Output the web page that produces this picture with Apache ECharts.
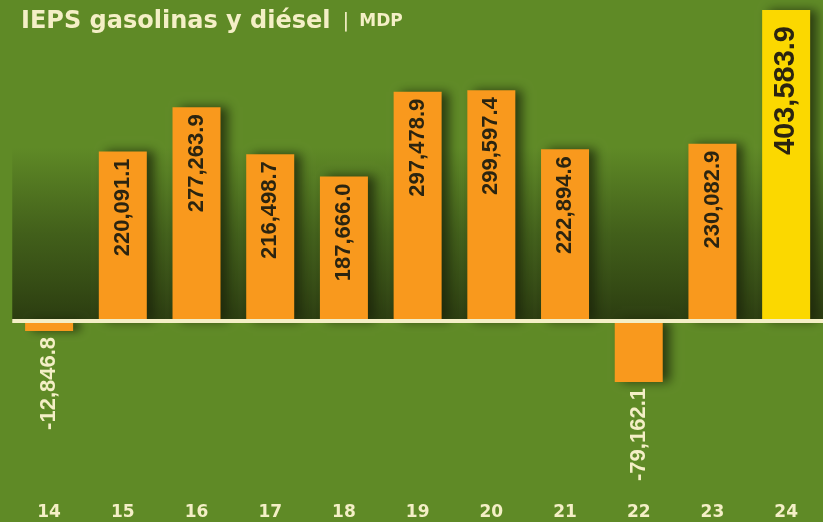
<!DOCTYPE html>
<html>
<head>
<meta charset="utf-8">
<script src="https://cdn.jsdelivr.net/npm/echarts@6/dist/echarts.min.js"></script>
<style>
html,body{margin:0;padding:0;background:#5f8a26;}
#chart{width:823px;height:522px;}
</style>
</head>
<body>
<div id="chart"></div>
<script>
const categories = ['14','15','16','17','18','19','20','21','22','23','24'];
const values = [-12846.8, 220091.1, 277263.9, 216498.7, 187666.0, 297478.9, 299597.4, 222894.6, -79162.1, 230082.9, 403583.9];
const highlightIndex = 10;

const cream = '#f4efc6';
const orange = '#f9991d';
const yellow = '#fbd800';

function fmt(v){
  return v.toLocaleString('en-US',{minimumFractionDigits:1, maximumFractionDigits:1});
}

const barData = values.map((v,i)=>{
  const item = {value:v};
  if (i === highlightIndex) {
    item.itemStyle = {color: yellow};
    item.label = {fontSize: 29, distance: 16};
  } else if (v < 0) {
    item.label = {position:'bottom', color: cream, distance: 6, fontWeight: 'bold'};
  }
  return item;
});

const chart = echarts.init(document.getElementById('chart'));
chart.setOption({
  backgroundColor: '#5f8a26',
  animation: false,
  title: {
    left: 16, top: 5,
    text: '{a|IEPS gasolinas y diésel}{b||}{c|MDP}',
    textStyle: {
      rich: {
        a: {fontFamily:'DejaVu Sans', fontWeight:'bold', fontSize:24, color:cream},
        b: {fontFamily:'DejaVu Sans', fontWeight:'normal', fontSize:20, color:cream, padding:[0,10,0,12]},
        c: {fontFamily:'DejaVu Sans', fontWeight:'bold', fontSize:17, color:cream}
      }
    }
  },
  grid: {left: 12.25, right: -8.75, top: 10, bottom: 22.2},
  xAxis: {
    type: 'category',
    data: categories,
    position: 'bottom',
    axisLine: {show:false, onZero:false},
    axisTick: {show:false},
    axisLabel: {color: cream, fontFamily:'DejaVu Sans', fontWeight:'bold', fontSize:17, margin:4}
  },
  yAxis: {
    type: 'value',
    min: -232000,
    max: 403583.9,
    show: false
  },
  series: [
    {
      type: 'line',
      z: 1,
      data: categories.map(()=>'-'),
      symbol: 'none',
      silent: true,
      markArea: {
        silent: true,
        itemStyle: {
          color: new echarts.graphic.LinearGradient(0,0,0,1,[
            {offset:0, color:'rgba(50,72,20,0)'},
            {offset:0.5, color:'rgba(50,72,20,0.65)'},
            {offset:1, color:'#2b3c10'}
          ])
        },
        data: [[{yAxis: 225000}, {yAxis: 0}]]
      }
    },
    {
      type: 'bar',
      z: 2,
      data: barData,
      barWidth: 48,
      itemStyle: {
        color: orange,
        shadowColor: 'rgba(25,35,8,0.75)',
        shadowBlur: 10,
        shadowOffsetX: 7,
        shadowOffsetY: 0
      },
      label: {
        show: true,
        position: 'insideTop',
        rotate: 90,
        align: 'right',
        verticalAlign: 'middle',
        distance: 7,
        color: '#2b2410',
        fontFamily: 'Liberation Sans',
        fontWeight: 'bold',
        fontSize: 22,
        formatter: p => fmt(p.value)
      },
      markLine: {
        silent: true,
        symbol: 'none',
        label: {show:false},
        lineStyle: {color: cream, width: 4, type: 'solid'},
        data: [{yAxis: 0}]
      }
    }
  ]
});
</script>
</body>
</html>
